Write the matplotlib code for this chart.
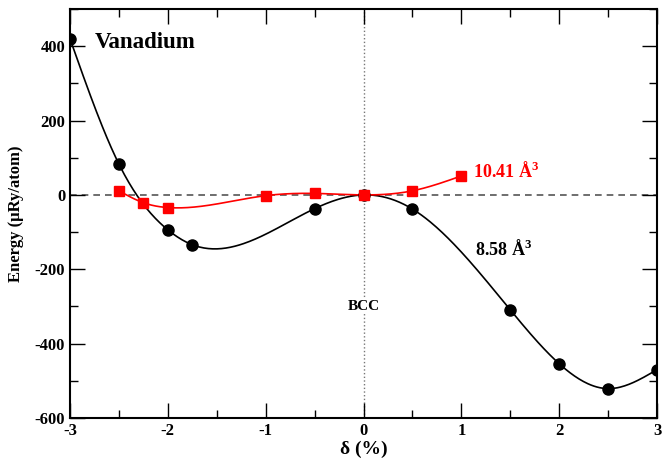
import matplotlib.pyplot as plt
import numpy as np

# Dane
x_858 = [-3, -2.5, -2, -1.75, -0.5, 0, 0.5, 1.5, 2, 2.5, 3]
e_858 = [420, 83, -94, -134, -37, 0, -38, -309, -454, -521, -470]
x_1041 = [-2.5, -2.25, -2, -1, -0.5, 0, 0.5, 1]
e_1041 = [11, -21, -34, -2, 4, 0, 11, 51]


# Naturalny splajn kubiczny (gladka linia przez punkty)
def spline(xs, ys, n=400):
    xs = np.asarray(xs, float)
    ys = np.asarray(ys, float)
    k = len(xs)
    h = np.diff(xs)
    A = np.zeros((k, k))
    b = np.zeros(k)
    A[0, 0] = A[-1, -1] = 1
    for i in range(1, k - 1):
        A[i, i - 1] = h[i - 1]
        A[i, i] = 2 * (h[i - 1] + h[i])
        A[i, i + 1] = h[i]
        b[i] = 6 * ((ys[i + 1] - ys[i]) / h[i] - (ys[i] - ys[i - 1]) / h[i - 1])
    m = np.linalg.solve(A, b)
    xx = np.linspace(xs[0], xs[-1], n)
    idx = np.clip(np.searchsorted(xs, xx) - 1, 0, k - 2)
    x0, x1 = xs[idx], xs[idx + 1]
    hh = x1 - x0
    t0, t1 = x1 - xx, xx - x0
    yy = (m[idx] * t0 ** 3 + m[idx + 1] * t1 ** 3) / (6 * hh) \
        + (ys[idx] / hh - m[idx] * hh / 6) * t0 \
        + (ys[idx + 1] / hh - m[idx + 1] * hh / 6) * t1
    return xx, yy


plt.rcParams['font.family'] = ['Liberation Serif', 'DejaVu Serif']
plt.rcParams['font.weight'] = 'bold'
plt.rcParams['axes.unicode_minus'] = False
plt.rcParams['mathtext.fontset'] = 'custom'
plt.rcParams['mathtext.rm'] = 'Liberation Serif:bold'
plt.rcParams['mathtext.bf'] = 'Liberation Serif:bold'

fig = plt.figure(figsize=(6.69, 4.63), dpi=100)
ax = fig.add_axes([70 / 669, 45 / 463, 587 / 669, 409 / 463])

ax.axhline(0, color='#555555', ls=(0, (4, 3)), lw=1.2, zorder=1)
ax.axvline(0, color='#777777', ls=':', lw=1, zorder=1)

sx, sy = spline(x_858, e_858)
ax.plot(sx, sy, color='black', lw=1.2, zorder=2)
ax.plot(x_858, e_858, 'o', color='black', ms=8, zorder=3)

rx, ry = spline(x_1041, e_1041)
ax.plot(rx, ry, color='red', lw=1.2, zorder=2)
ax.plot(x_1041, e_1041, 's', color='red', ms=6.5, zorder=3)

ax.text(-2.75, 410, 'Vanadium', fontsize=16.5, fontweight='bold', va='center')
ax.text(1.12, 62, r'10.41 Å$^{\mathbf{3}}$', color='red', fontsize=13,
        fontweight='bold', va='center')
ax.text(1.14, -148, r'8.58 Å$^{\mathbf{3}}$', color='black', fontsize=13,
        fontweight='bold', va='center')
ax.text(0, -300, 'BCC', fontsize=11, fontweight='bold', ha='center',
        va='center', bbox=dict(fc='white', ec='none', pad=1), zorder=2)

ax.set_xlim(-3, 3)
ax.set_ylim(-600, 500)
ax.set_xticks(np.arange(-3, 3.1, 1))
ax.set_xticks(np.arange(-3, 3.1, 0.5), minor=True)
ax.set_yticks(np.arange(-600, 401, 200))
ax.set_yticks(np.arange(-600, 501, 100), minor=True)
ax.tick_params(which='both', direction='in', top=True, right=True,
               labelsize=12, width=1)
ax.tick_params(which='major', length=11)
ax.tick_params(which='minor', length=6)
for s in ax.spines.values():
    s.set_linewidth(1.5)

ax.set_xlabel('δ (%)', fontsize=14, fontweight='bold', labelpad=1)
ax.set_ylabel('Energy (μRy/atom)', fontsize=12, fontweight='bold', labelpad=8)

fig.savefig('out.png', dpi=100)
